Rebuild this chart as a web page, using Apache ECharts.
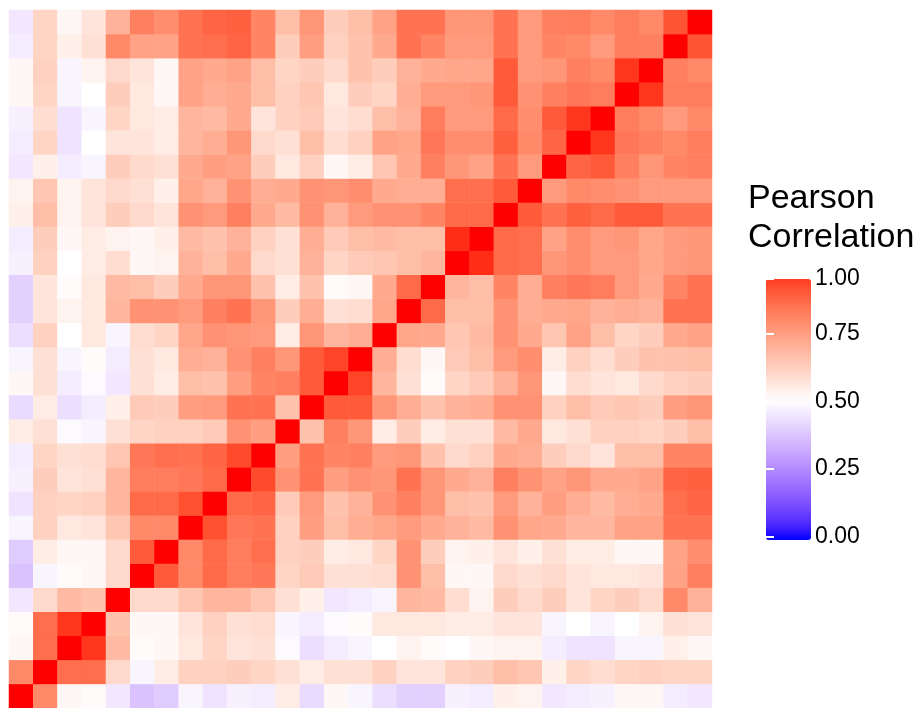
<!DOCTYPE html>
<html>
<head>
<meta charset="utf-8">
<script src="https://cdn.jsdelivr.net/npm/echarts@6/dist/echarts.min.js"></script>
<style>
html,body{margin:0;padding:0;background:#fff;}
#chart{width:924px;height:708px;}
</style>
</head>
<body>
<div id="chart"></div>
<script>
// Variables (hidden axis categories), ordered from bottom/left
const variables = ['V1','V2','V3','V4','V5','V6','V7','V8','V9','V10','V11','V12','V13','V14','V15',
  'V16','V17','V18','V19','V20','V21','V22','V23','V24','V25','V26','V27','V28','V29'];

// Lower triangle of the symmetric correlation matrix: rowK holds corr(Vk+1, V1..Vk)
const row1  = [0.80];
const row2  = [0.52, 0.86];
const row3  = [0.51, 0.86, 0.96];
const row4  = [0.45, 0.60, 0.68, 0.66];
const row5  = [0.37, 0.48, 0.51, 0.52, 0.60];
const row6  = [0.39, 0.55, 0.52, 0.52, 0.60, 0.90];
const row7  = [0.48, 0.62, 0.56, 0.57, 0.65, 0.80, 0.80];
const row8  = [0.44, 0.62, 0.61, 0.62, 0.69, 0.87, 0.87, 0.92];
const row9  = [0.47, 0.63, 0.57, 0.58, 0.69, 0.83, 0.83, 0.84, 0.87];
const row10 = [0.46, 0.61, 0.58, 0.59, 0.65, 0.84, 0.86, 0.85, 0.88, 0.93];
const row11 = [0.55, 0.58, 0.49, 0.48, 0.58, 0.61, 0.62, 0.62, 0.64, 0.78, 0.75];
const row12 = [0.42, 0.55, 0.43, 0.46, 0.54, 0.64, 0.63, 0.75, 0.76, 0.85, 0.85, 0.66];
const row13 = [0.52, 0.58, 0.46, 0.49, 0.45, 0.58, 0.55, 0.67, 0.66, 0.75, 0.81, 0.82, 0.90];
const row14 = [0.48, 0.58, 0.48, 0.51, 0.46, 0.58, 0.56, 0.71, 0.70, 0.78, 0.82, 0.77, 0.90, 0.94];
const row15 = [0.43, 0.62, 0.50, 0.56, 0.48, 0.59, 0.61, 0.73, 0.78, 0.77, 0.76, 0.55, 0.77, 0.69, 0.71];
const row16 = [0.40, 0.57, 0.53, 0.56, 0.69, 0.78, 0.78, 0.76, 0.82, 0.85, 0.77, 0.63, 0.71, 0.58, 0.59, 0.73];
const row17 = [0.40, 0.57, 0.51, 0.56, 0.68, 0.67, 0.63, 0.72, 0.77, 0.77, 0.66, 0.55, 0.66, 0.51, 0.52, 0.72, 0.87];
const row18 = [0.47, 0.62, 0.50, 0.55, 0.59, 0.52, 0.53, 0.70, 0.67, 0.72, 0.60, 0.58, 0.70, 0.61, 0.64, 0.65, 0.67, 0.69];
const row19 = [0.46, 0.63, 0.52, 0.55, 0.53, 0.52, 0.54, 0.68, 0.66, 0.70, 0.62, 0.58, 0.71, 0.64, 0.67, 0.68, 0.67, 0.67, 0.97];
const row20 = [0.54, 0.67, 0.53, 0.57, 0.63, 0.60, 0.57, 0.78, 0.76, 0.82, 0.72, 0.68, 0.78, 0.70, 0.76, 0.78, 0.78, 0.81, 0.87, 0.87];
const row21 = [0.53, 0.65, 0.53, 0.57, 0.60, 0.58, 0.54, 0.73, 0.70, 0.78, 0.71, 0.72, 0.78, 0.77, 0.79, 0.72, 0.71, 0.71, 0.86, 0.86, 0.90];
const row22 = [0.45, 0.54, 0.46, 0.48, 0.63, 0.60, 0.58, 0.72, 0.75, 0.74, 0.63, 0.56, 0.62, 0.52, 0.55, 0.65, 0.72, 0.82, 0.77, 0.74, 0.85, 0.76];
const row23 = [0.46, 0.61, 0.44, 0.50, 0.57, 0.57, 0.55, 0.69, 0.71, 0.77, 0.60, 0.58, 0.67, 0.59, 0.62, 0.74, 0.73, 0.84, 0.79, 0.79, 0.89, 0.80, 0.88];
const row24 = [0.47, 0.59, 0.44, 0.48, 0.61, 0.56, 0.55, 0.69, 0.68, 0.72, 0.57, 0.62, 0.64, 0.57, 0.59, 0.67, 0.70, 0.83, 0.76, 0.76, 0.87, 0.79, 0.90, 0.96];
const row25 = [0.52, 0.61, 0.48, 0.50, 0.63, 0.56, 0.52, 0.74, 0.71, 0.72, 0.67, 0.62, 0.65, 0.56, 0.63, 0.61, 0.71, 0.76, 0.76, 0.77, 0.90, 0.78, 0.82, 0.84, 0.83];
const row26 = [0.52, 0.62, 0.48, 0.53, 0.60, 0.57, 0.52, 0.74, 0.72, 0.74, 0.67, 0.61, 0.63, 0.60, 0.66, 0.63, 0.70, 0.72, 0.73, 0.73, 0.90, 0.76, 0.77, 0.82, 0.80, 0.96];
const row27 = [0.46, 0.61, 0.54, 0.58, 0.80, 0.74, 0.74, 0.85, 0.86, 0.88, 0.81, 0.63, 0.75, 0.62, 0.66, 0.72, 0.85, 0.81, 0.76, 0.76, 0.85, 0.76, 0.81, 0.80, 0.76, 0.83, 0.82];
const row28 = [0.45, 0.61, 0.52, 0.57, 0.70, 0.82, 0.79, 0.85, 0.88, 0.89, 0.81, 0.67, 0.77, 0.63, 0.67, 0.74, 0.85, 0.85, 0.77, 0.77, 0.85, 0.76, 0.82, 0.83, 0.80, 0.83, 0.80, 0.91];

// Legend: tick labels, and the value range the colour bar actually shows
const legendTicks = ['0.00', '0.25', '0.50', '0.75'];
const legendTopLabel = '1.00';
const barRange = [-0.013, 0.952];

const lowerRows = [[], row1, row2, row3, row4, row5, row6, row7, row8, row9, row10, row11, row12, row13, row14,
  row15, row16, row17, row18, row19, row20, row21, row22, row23, row24, row25, row26, row27, row28];

// Build full symmetric matrix cells [x, y, value]
const n = variables.length;
const cells = [];
for (let r = 0; r < n; r++) {
  for (let c = 0; c < n; c++) {
    let v;
    if (r === c) v = 1;
    else if (c < r) v = lowerRows[r][c];
    else v = lowerRows[c][r];
    cells.push([c, r, v]);
  }
}

// Lab-space gradient (blue - white - red), like ggplot2 scale_fill_gradient2
function toLin(c){ c/=255; return c<=0.04045? c/12.92 : Math.pow((c+0.055)/1.055,2.4); }
function toSrgb(c){ c = c<=0.0031308? 12.92*c : 1.055*Math.pow(c,1/2.4)-0.055; return Math.max(0,Math.min(255,Math.round(c*255))); }
function rgb2lab(rgb){
  const r=toLin(rgb[0]), g=toLin(rgb[1]), b=toLin(rgb[2]);
  let X=(0.4124*r+0.3576*g+0.1805*b)/0.95047, Y=(0.2126*r+0.7152*g+0.0722*b), Z=(0.0193*r+0.1192*g+0.9505*b)/1.08883;
  const f=t=> t>0.008856? Math.cbrt(t) : 7.787*t+16/116;
  const fx=f(X), fy=f(Y), fz=f(Z);
  return [116*fy-16, 500*(fx-fy), 200*(fy-fz)];
}
function lab2rgb(lab){
  const fy=(lab[0]+16)/116, fx=fy+lab[1]/500, fz=fy-lab[2]/200;
  const fi=t=> t*t*t>0.008856? t*t*t : (t-16/116)/7.787;
  const X=fi(fx)*0.95047, Y=fi(fy), Z=fi(fz)*1.08883;
  const r= 3.2406*X-1.5372*Y-0.4986*Z, g=-0.9689*X+1.8758*Y+0.0415*Z, b=0.0557*X-0.2040*Y+1.0570*Z;
  return 'rgb('+toSrgb(r)+','+toSrgb(g)+','+toSrgb(b)+')';
}
const labLow = rgb2lab([0,0,255]), labMid = rgb2lab([255,255,255]), labHigh = rgb2lab([255,0,0]);
function colorAt(v){
  v = Math.max(0, Math.min(1, v));
  let a, b, t;
  if (v <= 0.5) { a = labLow; b = labMid; t = v/0.5; } else { a = labMid; b = labHigh; t = (v-0.5)/0.5; }
  return lab2rgb([a[0]+(b[0]-a[0])*t, a[1]+(b[1]-a[1])*t, a[2]+(b[2]-a[2])*t]);
}
const NS = 40;
const stops = [], barStops = [];
for (let i = 0; i <= NS; i++) {
  stops.push(colorAt(i/NS));
  barStops.push(colorAt(barRange[0] + (barRange[1]-barRange[0])*i/NS));
}

const chart = echarts.init(document.getElementById('chart'), null, {renderer:'canvas'});
const FONT = '"Liberation Sans", Arial, sans-serif';
chart.setOption({
  backgroundColor: '#ffffff',
  animation: false,
  title: {
    text: 'Pearson\nCorrelation',
    left: 748, top: 179, padding: 0,
    textStyle: { fontFamily: FONT, fontSize: 34, fontWeight: 'normal', color: '#000', lineHeight: 39 }
  },
  grid: [
    { left: 9, top: 10, width: 703, height: 702 },
    { left: 766, top: 279, width: 45, height: 257.5 }
  ],
  xAxis: [
    { type: 'category', data: variables, show: false, gridIndex: 0 },
    { type: 'value', show: false, gridIndex: 1 }
  ],
  yAxis: [
    { type: 'category', data: variables, show: false, gridIndex: 0 },
    { type: 'value', gridIndex: 1, min: 0, max: barRange[1], interval: 0.25, position: 'right', zlevel: 1,
      axisLine: { show: false }, splitLine: { show: false },
      axisTick: { show: true, inside: true, length: 8, lineStyle: { color: '#fff', width: 2 } },
      axisLabel: { margin: 4, fontFamily: FONT, fontSize: 23, color: '#000', showMaxLabel: true,
        formatter: (v) => (v > 0.9 ? legendTopLabel : legendTicks[Math.round(v / 0.25)]) } },
    { type: 'value', gridIndex: 1, min: 0, max: barRange[1], interval: 0.25, position: 'left', zlevel: 1,
      axisLine: { show: false }, splitLine: { show: false }, axisLabel: { show: false },
      axisTick: { show: true, inside: true, length: 8, lineStyle: { color: '#fff', width: 2 } } }
  ],
  visualMap: [
    { type: 'continuous', min: 0, max: 1, seriesIndex: 0, show: false,
      inRange: { color: stops } },
    { type: 'continuous', min: barRange[0], max: barRange[1], seriesIndex: 1,
      left: 766, top: 279, itemWidth: 45, itemHeight: 261, padding: 0,
      calculable: false, showLabel: false, text: null, hoverLink: false, realtime: false,
      inRange: { color: barStops } }
  ],
  series: [{
    type: 'heatmap',
    xAxisIndex: 0, yAxisIndex: 0,
    data: cells,
    itemStyle: { borderWidth: 0 },
    emphasis: { disabled: true },
    progressive: 0
  }, {
    type: 'scatter', xAxisIndex: 1, yAxisIndex: 1, data: [], silent: true
  }]
});
</script>
</body>
</html>
